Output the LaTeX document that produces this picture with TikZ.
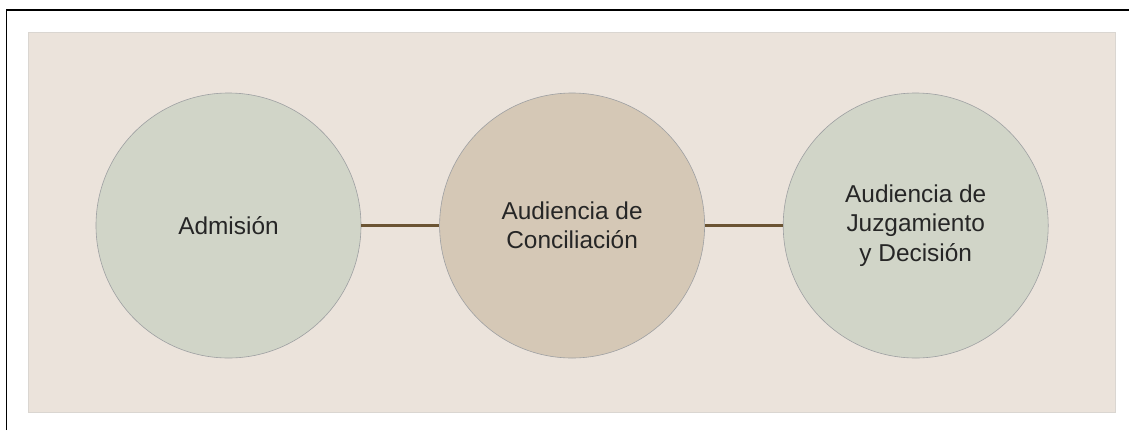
\documentclass[tikz,border=0pt]{standalone}
\usepackage{fontspec}
\setmainfont{Liberation Sans}
\usepackage{xcolor}
\usepackage{tikz}
\usetikzlibrary{positioning}

\definecolor{cBack}{HTML}{EBE3DB}
\definecolor{cBackLine}{HTML}{DAD6D1}
\definecolor{cGreen}{HTML}{D1D5C8}
\definecolor{cTan}{HTML}{D5C8B6}
\definecolor{cRim}{HTML}{9EA0A2}
\definecolor{cLink}{HTML}{6B5433}
\definecolor{cText}{HTML}{262626}

\begin{document}
\begin{tikzpicture}[x=1bp,y=-1bp,
  stage/.style={circle, draw=cRim, line width=0.6bp, minimum size=265bp, inner sep=0pt,
    align=center, text=cText, font=\fontsize{24.5}{29.5}\selectfont},
  link/.style={cLink, line width=2.2bp}]
\def\w{1129}
\def\h{430}
\def\gap{78bp}
\useasboundingbox (0,0) rectangle (\w,\h);
% frame and panel
\draw[black, line width=1.3bp] (6.5,\h) -- (6.5,10) -- (\w,10);
\filldraw[fill=cBack, draw=cBackLine, line width=0.6bp] (28,32) rectangle (1115,412);
% stages
\node[stage, fill=cGreen] (adm) at (228.5,225.5) {Admisión};
\node[stage, fill=cTan, right=\gap of adm] (conc) {Audiencia de\\Conciliación};
\node[stage, fill=cGreen, right=\gap of conc] (juz) {Audiencia de\\Juzgamiento\\y Decisión};
% links
\draw[link] (adm) -- (conc);
\draw[link] (conc) -- (juz);
\end{tikzpicture}
\end{document}
